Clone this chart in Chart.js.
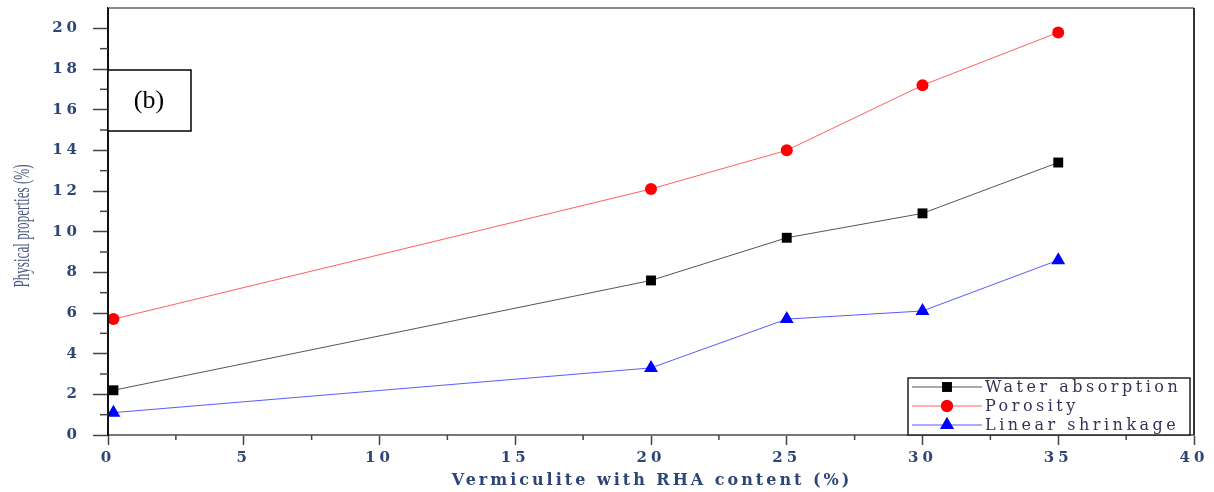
<!DOCTYPE html>
<html>
<head>
<meta charset="utf-8">
<script src="https://cdn.jsdelivr.net/npm/chart.js@4.4.1/dist/chart.umd.min.js"></script>
<style>
  html, body { margin: 0; padding: 0; background: #fff; }
  #wrap { width: 1214px; height: 492px; }
</style>
</head>
<body>
<div id="wrap"><canvas id="physChart" width="1214" height="492"></canvas></div>
<script>
// ========== DADOS ==========
const contents = [0.2, 20, 25, 30, 35];
const waterAbsorption = [2.2, 7.6, 9.7, 10.9, 13.4];
const porosity = [5.7, 12.1, 14.0, 17.2, 19.8];
const linearShrinkage = [1.1, 3.3, 5.7, 6.1, 8.6];
const seriesNames = ['Water absorption', 'Porosity', 'Linear shrinkage'];
const xTicks = [0, 5, 10, 15, 20, 25, 30, 35, 40];
const yTicks = [0, 2, 4, 6, 8, 10, 12, 14, 16, 18, 20];
const xTitle = 'Vermiculite with RHA content (%)';
const yTitle = 'Physical properties (%)';

const tickColor = '#2e4676';

function pts(values) {
    return contents.map((x, i) => ({ x: x, y: values[i] }));
}

// minor ticks, frame, titles, (b) label and inside legend
const extrasPlugin = {
    id: 'extras',
    beforeDraw(chart) {
        // spaced-out digits like the original figure
        chart.ctx.letterSpacing = '4px';
    },
    afterDraw(chart) {
        const ctx = chart.ctx;
        const a = chart.chartArea;
        const xs = chart.scales.x;
        const ys = chart.scales.y;
        ctx.save();
        // top and right frame
        ctx.strokeStyle = '#8a8a8a';
        ctx.lineWidth = 2;
        ctx.beginPath();
        ctx.moveTo(a.left, a.top);
        ctx.lineTo(a.right, a.top);
        ctx.stroke();
        ctx.strokeStyle = '#333';
        ctx.beginPath();
        ctx.moveTo(a.right, a.top);
        ctx.lineTo(a.right, a.bottom);
        ctx.stroke();

        // left axis redrawn over the clipped markers
        ctx.strokeStyle = '#111';
        ctx.beginPath();
        ctx.moveTo(a.left, a.top);
        ctx.lineTo(a.left, a.bottom);
        ctx.stroke();

        // minor ticks
        ctx.strokeStyle = '#444';
        ctx.lineWidth = 1.5;
        for (let v = 1; v < 21; v += 2) {
            const py = ys.getPixelForValue(v);
            ctx.beginPath();
            ctx.moveTo(a.left - 8, py);
            ctx.lineTo(a.left, py);
            ctx.stroke();
        }
        for (let v = 2.5; v < 40; v += 5) {
            const px = xs.getPixelForValue(v);
            ctx.beginPath();
            ctx.moveTo(px, a.bottom);
            ctx.lineTo(px, a.bottom + 5);
            ctx.stroke();
        }

        // axis titles
        ctx.fillStyle = tickColor;
        ctx.textAlign = 'center';
        ctx.textBaseline = 'middle';
        ctx.letterSpacing = '3px';
        ctx.font = 'bold 16px "DejaVu Serif"';
        ctx.fillText(xTitle, (a.left + a.right) / 2 + 1, 481);

        ctx.save();
        ctx.translate(23, 226);
        ctx.rotate(-Math.PI / 2);
        ctx.scale(0.82, 1.4);
        ctx.letterSpacing = '0px';
        ctx.font = '16px "Liberation Serif"';
        ctx.fillStyle = '#4a5a80';
        ctx.fillText(yTitle, 0, 0);
        ctx.restore();

        // (b) box
        ctx.letterSpacing = '0px';
        ctx.fillStyle = '#fff';
        ctx.fillRect(a.left, 70, 83, 61);
        ctx.strokeStyle = '#000';
        ctx.lineWidth = 1.5;
        ctx.strokeRect(a.left, 70, 83, 61);
        ctx.fillStyle = '#000';
        ctx.font = '26px "Liberation Serif"';
        ctx.fillText('(b)', a.left + 41, 101);

        // legend
        const lx = 908, ly = 378, lw = 282, lh = 57;
        ctx.fillStyle = '#fff';
        ctx.fillRect(lx, ly, lw, lh);
        ctx.strokeStyle = '#222';
        ctx.lineWidth = 1.5;
        ctx.strokeRect(lx, ly, lw, lh);
        ctx.textAlign = 'left';
        ctx.letterSpacing = '3.5px';
        ctx.font = '16px "DejaVu Serif"';
        chart.data.datasets.forEach((ds, i) => {
            const ry = ly + 9 + i * 19;
            ctx.strokeStyle = ds.borderColor;
            ctx.lineWidth = 1;
            ctx.beginPath();
            ctx.moveTo(lx + 4, ry);
            ctx.lineTo(lx + 74, ry);
            ctx.stroke();
            Chart.helpers.drawPoint(ctx, {
                pointStyle: ds.pointStyle,
                radius: ds.pointRadius,
                borderWidth: 0
            }, lx + 39, ry);
            ctx.fillStyle = ds.backgroundColor;
            ctx.fill();
            ctx.fillStyle = '#3b2f55';
            ctx.fillText(ds.label, lx + 77, ry + 1);
        });
        ctx.restore();
    }
};

const physChart = new Chart(document.getElementById('physChart').getContext('2d'), {
    type: 'line',
    data: {
        datasets: [
            {
                label: seriesNames[0],
                data: pts(waterAbsorption),
                borderColor: '#555',
                backgroundColor: '#000',
                borderWidth: 1,
                pointStyle: 'rect',
                pointRadius: 7,
                pointBorderWidth: 0,
                clip: { left: 0, top: 10, right: 10, bottom: 10 }
            },
            {
                label: seriesNames[1],
                data: pts(porosity),
                borderColor: '#ff6060',
                backgroundColor: '#ff0000',
                borderWidth: 1,
                pointStyle: 'circle',
                pointRadius: 6,
                pointBorderWidth: 0,
                clip: { left: 0, top: 10, right: 10, bottom: 10 }
            },
            {
                label: seriesNames[2],
                data: pts(linearShrinkage),
                borderColor: '#5a5aff',
                backgroundColor: '#0000ff',
                borderWidth: 1,
                pointStyle: 'triangle',
                pointRadius: 8,
                pointBorderWidth: 0,
                clip: { left: 0, top: 10, right: 10, bottom: 10 }
            }
        ]
    },
    options: {
        responsive: false,
        animation: false,
        layout: { padding: { left: 0, right: 20, top: 8, bottom: 0 } },
        plugins: {
            legend: { display: false },
            tooltip: { enabled: false }
        },
        scales: {
            x: {
                type: 'linear',
                min: 0,
                max: 40,
                afterFit: function(scale) {
                    scale.height = 57;
                    scale.paddingLeft = 0;
                    scale.paddingRight = 0;
                },
                afterBuildTicks: function(scale) {
                    scale.ticks = xTicks.map(v => ({ value: v }));
                },
                border: { color: '#777', width: 2 },
                grid: { drawOnChartArea: false, tickLength: 10, tickColor: '#444', tickWidth: 1.5 },
                ticks: {
                    color: tickColor,
                    padding: 4,
                    font: { family: 'DejaVu Serif', size: 15, weight: 'bold' }
                },
                title: { display: false }
            },
            y: {
                type: 'linear',
                min: 0,
                max: 21,
                afterFit: function(scale) {
                    scale.width = 108;
                    scale.paddingTop = 0;
                    scale.paddingBottom = 0;
                },
                afterBuildTicks: function(scale) {
                    scale.ticks = yTicks.map(v => ({ value: v }));
                },
                border: { color: '#111', width: 2 },
                grid: { drawOnChartArea: false, tickLength: 15, tickColor: '#444', tickWidth: 1.5 },
                ticks: {
                    color: tickColor,
                    padding: 12,
                    font: { family: 'DejaVu Serif', size: 15, weight: 'bold' }
                },
                title: { display: false }
            }
        }
    },
    plugins: [extrasPlugin]
});
</script>
</body>
</html>
